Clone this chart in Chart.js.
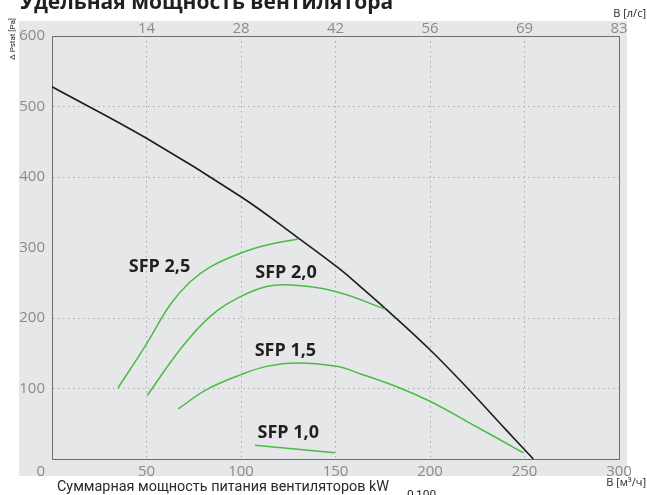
<!DOCTYPE html>
<html><head><meta charset="utf-8">
<script src="https://cdn.jsdelivr.net/npm/chart.js@4/dist/chart.umd.min.js"></script>
<style>
html,body{margin:0;padding:0;background:#fff;}
#wrap{position:relative;width:647px;height:495px;overflow:hidden;font-family:'Open Sans',sans-serif;}
#bg{position:absolute;left:19px;top:21px;width:608px;height:455px;background:#e6e7e8;}
canvas{position:absolute;left:0;top:0;}
.t{position:absolute;white-space:nowrap;line-height:1;color:#231f20;}
</style></head><body>
<div id="wrap">
<div id="bg"></div>
<canvas id="c" width="647" height="495"></canvas>
<div class="t" style="left:20px;top:-9px;font-size:21px;font-weight:700;">Удельная мощность вентилятора</div>
<div class="t" style="right:1px;top:6.5px;font-size:11px;">В [л/с]</div>
<div class="t" style="right:1px;top:476px;font-size:11px;">В [м³/ч]</div>
<div class="t" style="left:57px;top:479.5px;font-size:14.4px;font-family:Roboto,sans-serif;color:#2b2b2b;">Суммарная мощность питания вентиляторов kW</div>
<div class="t" style="left:407px;top:489px;font-size:12px;font-family:Roboto,sans-serif;">0,100</div>
<div class="t" style="left:13px;top:39px;font-size:8px;font-family:Roboto,sans-serif;transform:translate(-50%,-50%) rotate(-90deg);">Δ Pstat [Pa]</div>
</div>
<script>
// ---- data ----
const xTickValues = [0, 50, 100, 150, 200, 250, 300];
const bottomTickLabels = ['0', '50', '100', '150', '200', '250', '300'];     // м³/ч
const topTickLabels = ['', '14', '28', '42', '56', '69', '83'];               // л/с
const yTickValues = [0, 100, 200, 300, 400, 500, 600];
const yTickLabels = ['', '100', '200', '300', '400', '500', '600'];

const fanX = [0, 50, 100, 130, 151, 163, 177, 200, 220, 240, 254.7];
const fanY = [528, 455, 372, 314, 272, 245, 212, 155, 100, 42, 0];

const sfp25X = [34.9, 50.3, 62.4, 73.0, 83.6, 100, 113.8, 130.2];
const sfp25Y = [100.7, 164.5, 218.4, 251, 272.3, 292.2, 303.5, 312];

const sfp20X = [50.4, 67.7, 83.6, 100, 113.6, 125, 150, 176.2];
const sfp20Y = [90, 155, 202, 230.6, 244.8, 247, 237.7, 212.7];

const sfp15X = [66.8, 81.8, 100, 113.6, 129.5, 150.6, 163, 184, 200, 219.4, 249.4];
const sfp15Y = [71.1, 98.4, 119.7, 131.4, 136.3, 131.4, 121, 100.8, 81.9, 53.5, 8.8];

const sfp10X = [107.4, 149.7];
const sfp10Y = [19.6, 8.7];

const sfpNames = ['SFP 2,5', 'SFP 2,0', 'SFP 1,5', 'SFP 1,0'];
const sfpLabelX = [56.9, 123.8, 123.5, 125];
const sfpLabelY = [273, 263.7, 152.7, 37.1];

// ---- styling ----
const GREEN = '#4cbb45';
const TICK_COLOR = '#8a8b8d';
const FRAME = '#6d6e70';
const GRID = '#a9abae';
const FONT = "'Open Sans', sans-serif";

const pts = (xs, ys) => xs.map((x, i) => ({x: x, y: ys[i]}));
const line = (xs, ys, color, w) => ({
  data: pts(xs, ys), showLine: true, borderColor: color, borderWidth: w,
  pointRadius: 0, fill: false, tension: 0.4
});

const labelPlugin = {
  id: 'sfpLabels',
  afterDatasetsDraw(chart) {
    const {ctx} = chart; const xs = chart.scales.x, ys = chart.scales.y;
    ctx.save();
    ctx.font = "700 18px " + FONT;
    ctx.fillStyle = '#231f20';
    ctx.textAlign = 'center';
    ctx.textBaseline = 'middle';
    sfpNames.forEach((n, i) => ctx.fillText(n, xs.getPixelForValue(sfpLabelX[i]), ys.getPixelForValue(sfpLabelY[i])));
    ctx.restore();
  }
};

const gridColor = (c) => (c.tick && (c.tick.value === 0 || c.tick.value === 300 || c.tick.value === 600)) ? 'rgba(0,0,0,0)' : GRID;

new Chart(document.getElementById('c'), {
  type: 'scatter',
  data: {
    datasets: [
      line(sfp25X, sfp25Y, GREEN, 1.5),
      line(sfp20X, sfp20Y, GREEN, 1.5),
      line(sfp15X, sfp15Y, GREEN, 1.5),
      line(sfp10X, sfp10Y, GREEN, 1.5),
      line(fanX, fanY, '#1c1c1c', 1.6)
    ]
  },
  options: {
    responsive: false, animation: false, devicePixelRatio: 1,
    layout: {padding: 0},
    plugins: {legend: {display: false}, tooltip: {enabled: false}},
    scales: {
      x: {
        type: 'linear', position: 'bottom', min: 0, max: 300,
        afterBuildTicks: s => { s.ticks = xTickValues.map(v => ({value: v})); },
        ticks: {
          color: TICK_COLOR, font: {family: FONT, size: 15, lineHeight: 1}, padding: 5, maxRotation: 0,
          callback: (v, i) => i === 0 ? bottomTickLabels[i] + '\u2003\u2002' : bottomTickLabels[i]
        },
        grid: {color: gridColor, lineWidth: 1, drawTicks: false},
        border: {display: true, color: FRAME, width: 1, dash: [1.5, 3.5]},
        afterFit: s => { s.height = 36; }
      },
      x2: {
        type: 'linear', position: 'top', display: true, min: 0, max: 300,
        afterBuildTicks: s => { s.ticks = xTickValues.map(v => ({value: v})); },
        ticks: {color: TICK_COLOR, font: {family: FONT, size: 15, lineHeight: 1}, padding: 0, maxRotation: 0,
          callback: (v, i) => topTickLabels[i]},
        grid: {display: false, drawTicks: false},
        border: {display: true, color: FRAME, width: 1},
        afterFit: s => { s.height = 36; }
      },
      y: {
        type: 'linear', position: 'left', min: 0, max: 600,
        afterBuildTicks: s => { s.ticks = yTickValues.map(v => ({value: v})); },
        ticks: {color: TICK_COLOR, font: {family: FONT, size: 15}, padding: 7,
          callback: (v, i) => yTickLabels[i]},
        grid: {color: gridColor, lineWidth: 1, drawTicks: false},
        border: {display: true, color: FRAME, width: 1, dash: [1.5, 3.5]},
        afterFit: s => { s.width = 52; }
      },
      y2: {
        type: 'linear', position: 'right', display: true, min: 0, max: 600,
        ticks: {display: false},
        grid: {display: false, drawTicks: false},
        border: {display: true, color: FRAME, width: 1},
        afterFit: s => { s.width = 28; }
      }
    }
  },
  plugins: [labelPlugin]
});
</script>
</body></html>
